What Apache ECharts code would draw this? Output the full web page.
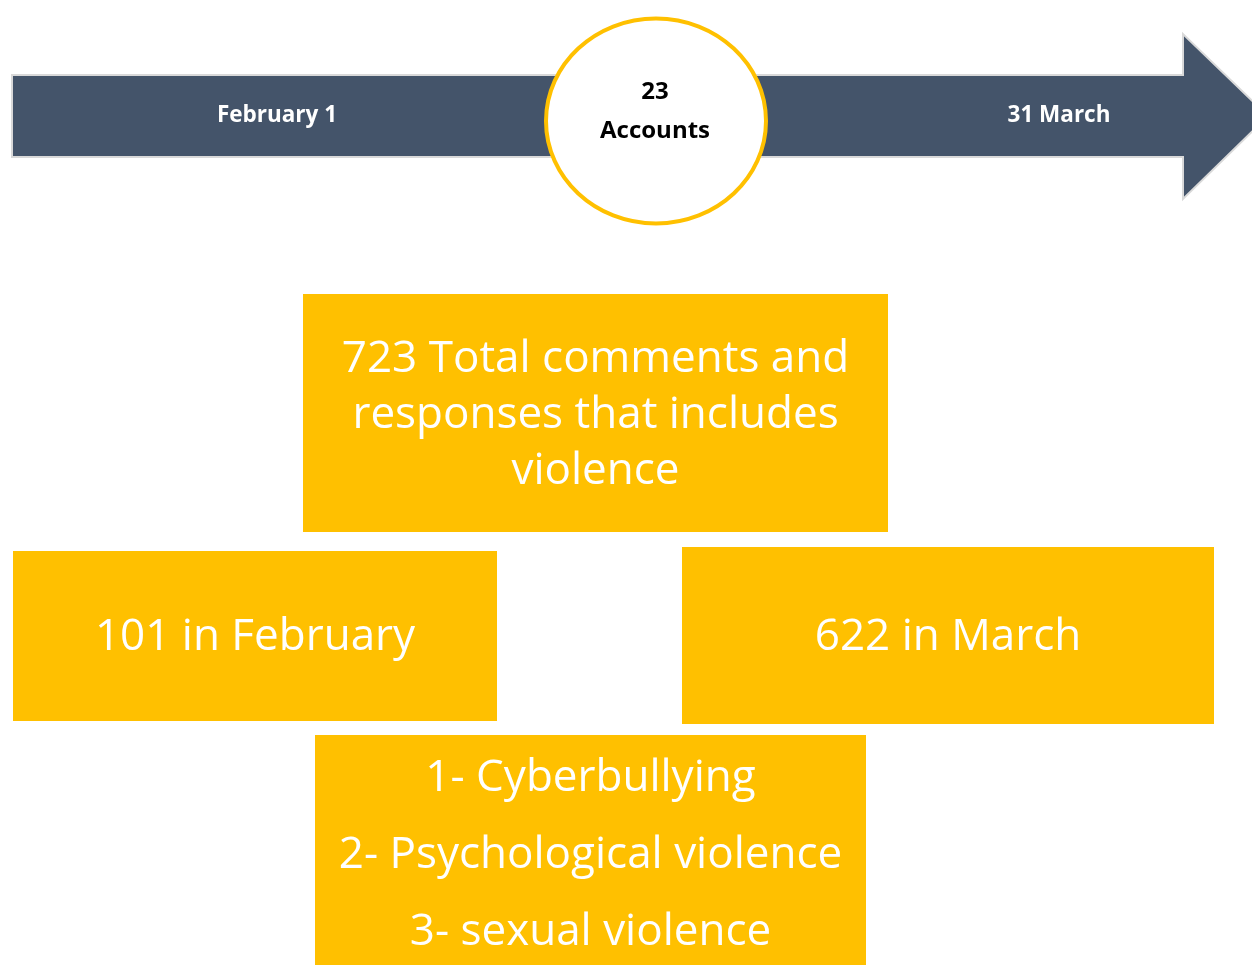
<!DOCTYPE html>
<html>
<head>
<meta charset="utf-8">
<script src="https://cdn.jsdelivr.net/npm/echarts@6/dist/echarts.min.js"></script>
<style>
html,body{margin:0;padding:0;background:#fff;}
#main{width:1252px;height:965px;}
</style>
</head>
<body>
<div id="main"></div>
<script>
// ---- data ----
const timelineLabels = ['February 1', '31 March'];
const accountCount = 23;
const accountLabel = 'Accounts';
const totalComments = 723;
const totalText = ['Total comments and', 'responses that includes', 'violence'];
const monthNames = ['February', 'March'];
const monthValues = [101, 622];
const violenceTypes = ['Cyberbullying', 'Psychological violence', 'sexual violence'];

// ---- styles ----
const NAVY = '#44546a';
const GOLD = '#ffc000';
const FONT = '"Open Sans", "Noto Sans", sans-serif';

const chart = echarts.init(document.getElementById('main'), null, {renderer: 'canvas'});

function box(x, y, w, h, lines, lineHeight, fontSize, textY) {
  return {
    type: 'group',
    children: [
      {type: 'rect', shape: {x: x, y: y, width: w, height: h}, style: {fill: GOLD}},
      {type: 'text', x: x + w / 2, y: textY,
       style: {text: lines.join('\n'), fill: '#fff', font: fontSize + 'px ' + FONT,
               align: 'center', verticalAlign: 'middle', lineHeight: lineHeight}}
    ]
  };
}

const elements = [
  {type: 'polygon',
   shape: {points: [[12,75],[1183,75],[1183,34],[1268,116],[1183,199],[1183,157],[12,157]]},
   style: {fill: NAVY, stroke: '#d9d9d9', lineWidth: 2}},
  {type: 'text', x: 277, y: 116,
   style: {text: timelineLabels[0], fill: '#fff', font: 'bold 22.5px ' + FONT, align: 'center', verticalAlign: 'middle'}},
  {type: 'text', x: 1059, y: 116,
   style: {text: timelineLabels[1], fill: '#fff', font: 'bold 22.5px ' + FONT, align: 'center', verticalAlign: 'middle'}},
  {type: 'ellipse', shape: {cx: 656, cy: 121, rx: 110, ry: 102.5},
   style: {fill: '#fff', stroke: GOLD, lineWidth: 4}},
  {type: 'text', x: 655, y: 112,
   style: {text: String(accountCount) + '\n' + accountLabel, fill: '#000', font: 'bold 24px ' + FONT,
           align: 'center', verticalAlign: 'middle', lineHeight: 39}},
  box(303, 294, 585, 238, [totalComments + ' ' + totalText[0], totalText[1], totalText[2]], 56, 44, 415),
  box(13, 551, 484, 170, [monthValues[0] + ' in ' + monthNames[0]], 56, 44, 637),
  box(682, 547, 532, 177, [monthValues[1] + ' in ' + monthNames[1]], 56, 44, 637),
  box(315, 735, 551, 240, violenceTypes.map((t, i) => (i + 1) + '- ' + t), 77, 44, 855)
];

chart.setOption({
  backgroundColor: '#fff',
  animation: false,
  graphic: {elements: elements}
});
</script>
</body>
</html>
